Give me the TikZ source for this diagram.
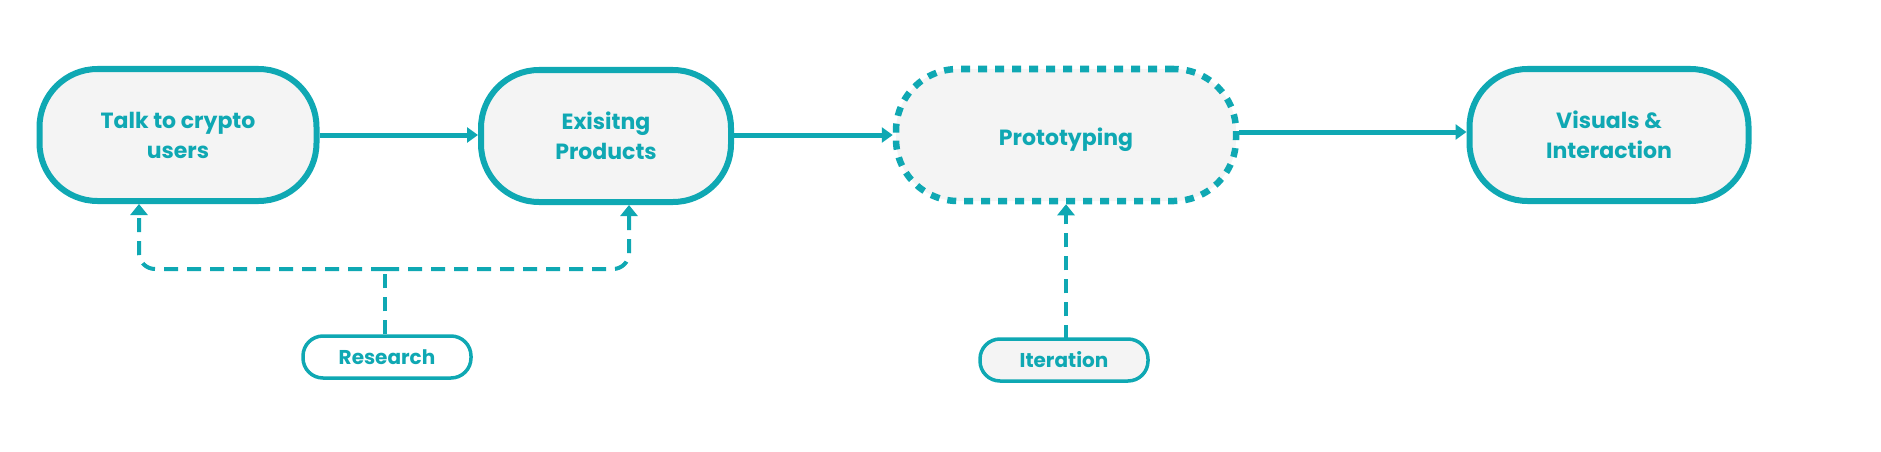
\documentclass[tikz,border=0pt]{standalone}
\usepackage{fontspec}
\setmainfont{Poppins}[UprightFont=*-Bold,BoldFont=*-Bold]
\usetikzlibrary{arrows.meta}
\definecolor{teal1}{HTML}{0FA8B3}
\definecolor{boxfill}{HTML}{F4F4F4}
\tikzset{
  bigbox/.style={draw=teal1,fill=boxfill,line width=6pt,rounded corners=58pt,
    minimum height=132pt,inner sep=0pt,align=center,text=teal1,
    font=\fontsize{22}{30}\selectfont},
  dotbox/.style={bigbox,line width=6.5pt,dash pattern=on 9pt off 8pt,rounded corners=62pt},
  smallbox/.style={draw=teal1,fill=white,line width=3.5pt,rounded corners=20pt,
    minimum height=42pt,inner sep=0pt,text=teal1,font=\fontsize{20}{24}\selectfont},
  flow/.style={draw=teal1,line width=5pt,-{Triangle[length=11pt,width=15pt]}},
  dline/.style={draw=teal1,line width=4pt,dash pattern=on 14pt off 9pt},
  darr/.style={dline,-{Triangle[length=11pt,width=17pt]}},
}
\begin{document}
\begin{tikzpicture}[x=1pt,y=-1pt]
\useasboundingbox (0,0) rectangle (1881,452);
\node[bigbox,minimum width=277pt] (n1) at (178,135) {Talk to crypto\hspace{26pt}\\users};
\node[bigbox,minimum width=250pt] (n2) at (606,136) {Exisitng\\Products};
\node[dotbox,minimum width=340pt] (n3) at (1066,135) {\raisebox{-10.5pt}[0pt][0pt]{Prototyping}};
\node[bigbox,minimum width=279pt] (n4) at (1609,135) {Visuals \&\hspace{28pt}\\Interaction};
\node[smallbox,minimum width=168pt] (res) at (387,357) {Research};
\node[smallbox,fill=boxfill,minimum width=168pt] (it) at (1064,360) {Iteration};
\draw[flow] (n1.east) -- (n2.west |- n1.east);
\draw[flow] (n2.east |- n1.east) -- (n3.west |- n1.east);
\draw[flow] ([yshift=3pt]n3.east) -- ([yshift=3pt]n4.west);
\coordinate (j) at (385,269);
\draw[dline] (res.north -| j) -- (j);
\draw[darr,rounded corners=16pt] (j) -| ([xshift=-39pt]n1.south);
\draw[darr,rounded corners=16pt] (j) -| ([xshift=23pt]n2.south);
\draw[darr] (it.north) -- (n3.south |- it.north) -- (n3.south);
\end{tikzpicture}
\end{document}
